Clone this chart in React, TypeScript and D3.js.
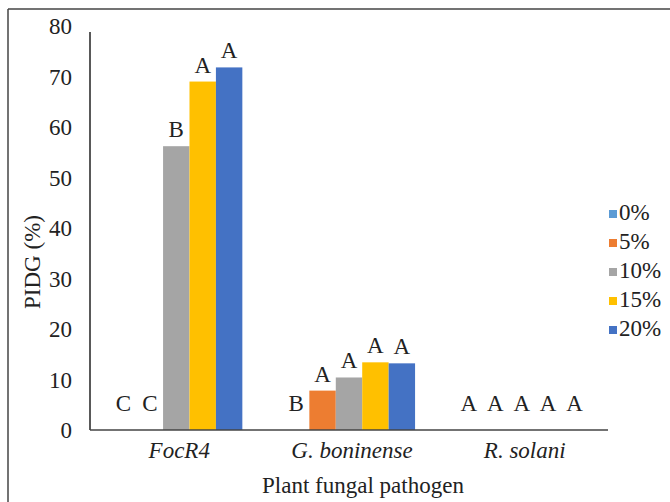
import React from "react";
import * as d3 from "d3";

const categories = ["FocR4", "G. boninense", "R. solani"];
const seriesNames = ["0%", "5%", "10%", "15%", "20%"];
const seriesColors = ["#5B9BD5", "#ED7D31", "#A5A5A5", "#FFC000", "#4472C4"];
// values[series][category]
const values = [
  [0, 0, 0],
  [0, 7.8, 0],
  [56.2, 10.4, 0],
  [69, 13.4, 0],
  [71.8, 13.2, 0],
];
// significance letters[series][category]
const letters = [
  ["C", "B", "A"],
  ["C", "A", "A"],
  ["B", "A", "A"],
  ["A", "A", "A"],
  ["A", "A", "A"],
];
const yTicks = [0, 10, 20, 30, 40, 50, 60, 70, 80];

const W = 670;
const H = 502;
const margin = { left: 90, right: 62, top: 26, bottom: 72 };
const FONT = "Liberation Serif, Times New Roman, serif";
const txt = { fontFamily: FONT };
const FS = 23;

export default function App() {
  const x0 = d3
    .scaleBand<string>()
    .domain(categories)
    .range([margin.left, W - margin.right])
    .paddingInner(0.235)
    .paddingOuter(0.117);
  const x1 = d3
    .scaleBand<string>()
    .domain(seriesNames)
    .range([0, x0.bandwidth()]);
  const y = d3
    .scaleLinear()
    .domain([0, 80])
    .range([H - margin.bottom, margin.top]);

  const base = y(0);

  return (
    <svg
      width={W}
      height={H}
      style={{ position: "absolute", left: 0, top: 0, background: "#fff", fontFamily: FONT }}
    >
      {/* outer frame (top and left only visible) */}
      <line x1={8} x2={W} y1={9} y2={9} stroke="#444" strokeWidth={1.5} />
      <line x1={8} x2={8} y1={9} y2={H} stroke="#444" strokeWidth={1.5} />

      {/* y tick labels */}
      {yTicks.map((t) => (
        <text
          key={t}
          x={margin.left - 18}
          y={y(t) + 8}
          textAnchor="end"
          fontSize={FS}
          fill="#222"
          style={txt}
        >
          {t}
        </text>
      ))}

      {/* bars */}
      {seriesNames.map((s, si) =>
        categories.map((c, ci) => {
          const v = values[si][ci];
          const bx = (x0(c) ?? 0) + (x1(s) ?? 0);
          return (
            <rect
              key={s + c}
              x={bx}
              y={y(v)}
              width={x1.bandwidth()}
              height={base - y(v)}
              fill={seriesColors[si]}
            />
          );
        })
      )}

      {/* letters */}
      {seriesNames.map((s, si) =>
        categories.map((c, ci) => {
          const v = values[si][ci];
          const cx = (x0(c) ?? 0) + (x1(s) ?? 0) + x1.bandwidth() / 2;
          return (
            <text
              key={"l" + s + c}
              x={cx}
              y={v === 0 ? base - 19 : y(v) - 9}
              textAnchor="middle"
              fontSize={FS}
              fill="#222"
              style={txt}
            >
              {letters[si][ci]}
            </text>
          );
        })
      )}

      {/* axes */}
      <line
        x1={margin.left}
        x2={margin.left}
        y1={y(80) + 6}
        y2={base}
        stroke="#222"
        strokeWidth={1.5}
      />
      <line
        x1={margin.left}
        x2={W - margin.right}
        y1={base}
        y2={base}
        stroke="#444"
        strokeWidth={1.5}
      />

      {/* category labels */}
      {categories.map((c) => (
        <text
          key={c}
          x={(x0(c) ?? 0) + x0.bandwidth() / 2 + 3}
          y={base + 28}
          textAnchor="middle"
          fontSize={FS}
          fontStyle="italic"
          fill="#222"
          style={txt}
        >
          {c}
        </text>
      ))}

      {/* axis titles */}
      <text x={363} y={493} textAnchor="middle" fontSize={FS} fill="#222" style={txt}>
        Plant fungal pathogen
      </text>
      <text
        transform={`translate(40,262) rotate(-90)`}
        textAnchor="middle"
        fontSize={FS}
        fill="#222"
        style={txt}
      >
        PIDG (%)
      </text>

      {/* legend */}
      {seriesNames.map((s, i) => {
        const ly = 206 + i * 29;
        return (
          <g key={"lg" + s}>
            <rect x={609} y={ly + 4} width={8} height={8} fill={seriesColors[i]} />
            <text x={619} y={ly + 14} fontSize={FS} fill="#222" style={txt}>
              {s}
            </text>
          </g>
        );
      })}
    </svg>
  );
}
